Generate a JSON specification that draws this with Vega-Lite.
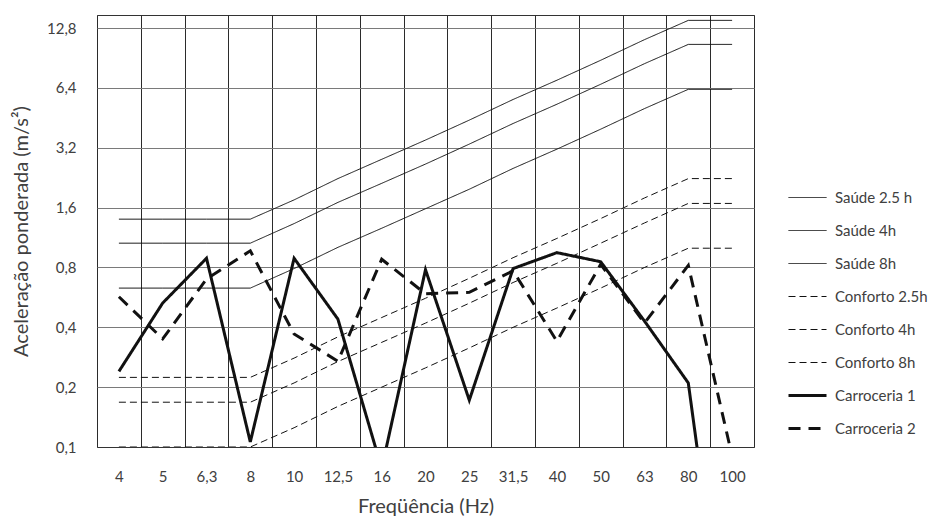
{
  "$schema": "https://vega.github.io/schema/vega-lite/v6.json",
  "width": 657,
  "height": 432,
  "autosize": {"type": "none"},
  "padding": {"left": 97, "top": 15, "right": 188, "bottom": 73},
  "background": "white",
  "config": {
    "font": "Lato",
    "view": {"stroke": "#333333", "strokeWidth": 1},
    "axis": {"labelFont": "Lato", "titleFont": "Lato", "labelColor": "#404040", "titleColor": "#404040", "titleFontWeight": "normal"},
    "legend": {"labelFont": "Lato"}
  },
  "data": {"values": [
    {"serie": "Saúde 2.5 h", "freq": "4", "valor": 1.4},
    {"serie": "Saúde 2.5 h", "freq": "5", "valor": 1.4},
    {"serie": "Saúde 2.5 h", "freq": "6,3", "valor": 1.4},
    {"serie": "Saúde 2.5 h", "freq": "8", "valor": 1.4},
    {"serie": "Saúde 2.5 h", "freq": "10", "valor": 1.75},
    {"serie": "Saúde 2.5 h", "freq": "12,5", "valor": 2.24},
    {"serie": "Saúde 2.5 h", "freq": "16", "valor": 2.8},
    {"serie": "Saúde 2.5 h", "freq": "20", "valor": 3.5},
    {"serie": "Saúde 2.5 h", "freq": "25", "valor": 4.41},
    {"serie": "Saúde 2.5 h", "freq": "31,5", "valor": 5.6},
    {"serie": "Saúde 2.5 h", "freq": "40", "valor": 7.0},
    {"serie": "Saúde 2.5 h", "freq": "50", "valor": 8.82},
    {"serie": "Saúde 2.5 h", "freq": "63", "valor": 11.2},
    {"serie": "Saúde 2.5 h", "freq": "80", "valor": 14.0},
    {"serie": "Saúde 2.5 h", "freq": "100", "valor": 14.0},
    {"serie": "Saúde 4h", "freq": "4", "valor": 1.06},
    {"serie": "Saúde 4h", "freq": "5", "valor": 1.06},
    {"serie": "Saúde 4h", "freq": "6,3", "valor": 1.06},
    {"serie": "Saúde 4h", "freq": "8", "valor": 1.06},
    {"serie": "Saúde 4h", "freq": "10", "valor": 1.33},
    {"serie": "Saúde 4h", "freq": "12,5", "valor": 1.7},
    {"serie": "Saúde 4h", "freq": "16", "valor": 2.12},
    {"serie": "Saúde 4h", "freq": "20", "valor": 2.65},
    {"serie": "Saúde 4h", "freq": "25", "valor": 3.34},
    {"serie": "Saúde 4h", "freq": "31,5", "valor": 4.24},
    {"serie": "Saúde 4h", "freq": "40", "valor": 5.3},
    {"serie": "Saúde 4h", "freq": "50", "valor": 6.68},
    {"serie": "Saúde 4h", "freq": "63", "valor": 8.48},
    {"serie": "Saúde 4h", "freq": "80", "valor": 10.6},
    {"serie": "Saúde 4h", "freq": "100", "valor": 10.6},
    {"serie": "Saúde 8h", "freq": "4", "valor": 0.63},
    {"serie": "Saúde 8h", "freq": "5", "valor": 0.63},
    {"serie": "Saúde 8h", "freq": "6,3", "valor": 0.63},
    {"serie": "Saúde 8h", "freq": "8", "valor": 0.63},
    {"serie": "Saúde 8h", "freq": "10", "valor": 0.79},
    {"serie": "Saúde 8h", "freq": "12,5", "valor": 1.01},
    {"serie": "Saúde 8h", "freq": "16", "valor": 1.26},
    {"serie": "Saúde 8h", "freq": "20", "valor": 1.58},
    {"serie": "Saúde 8h", "freq": "25", "valor": 1.98},
    {"serie": "Saúde 8h", "freq": "31,5", "valor": 2.52},
    {"serie": "Saúde 8h", "freq": "40", "valor": 3.15},
    {"serie": "Saúde 8h", "freq": "50", "valor": 3.97},
    {"serie": "Saúde 8h", "freq": "63", "valor": 5.04},
    {"serie": "Saúde 8h", "freq": "80", "valor": 6.3},
    {"serie": "Saúde 8h", "freq": "100", "valor": 6.3},
    {"serie": "Conforto 2.5h", "freq": "4", "valor": 0.224},
    {"serie": "Conforto 2.5h", "freq": "5", "valor": 0.224},
    {"serie": "Conforto 2.5h", "freq": "6,3", "valor": 0.224},
    {"serie": "Conforto 2.5h", "freq": "8", "valor": 0.224},
    {"serie": "Conforto 2.5h", "freq": "10", "valor": 0.28},
    {"serie": "Conforto 2.5h", "freq": "12,5", "valor": 0.358},
    {"serie": "Conforto 2.5h", "freq": "16", "valor": 0.448},
    {"serie": "Conforto 2.5h", "freq": "20", "valor": 0.56},
    {"serie": "Conforto 2.5h", "freq": "25", "valor": 0.706},
    {"serie": "Conforto 2.5h", "freq": "31,5", "valor": 0.896},
    {"serie": "Conforto 2.5h", "freq": "40", "valor": 1.12},
    {"serie": "Conforto 2.5h", "freq": "50", "valor": 1.41},
    {"serie": "Conforto 2.5h", "freq": "63", "valor": 1.79},
    {"serie": "Conforto 2.5h", "freq": "80", "valor": 2.24},
    {"serie": "Conforto 2.5h", "freq": "100", "valor": 2.24},
    {"serie": "Conforto 4h", "freq": "4", "valor": 0.168},
    {"serie": "Conforto 4h", "freq": "5", "valor": 0.168},
    {"serie": "Conforto 4h", "freq": "6,3", "valor": 0.168},
    {"serie": "Conforto 4h", "freq": "8", "valor": 0.168},
    {"serie": "Conforto 4h", "freq": "10", "valor": 0.21},
    {"serie": "Conforto 4h", "freq": "12,5", "valor": 0.269},
    {"serie": "Conforto 4h", "freq": "16", "valor": 0.336},
    {"serie": "Conforto 4h", "freq": "20", "valor": 0.42},
    {"serie": "Conforto 4h", "freq": "25", "valor": 0.529},
    {"serie": "Conforto 4h", "freq": "31,5", "valor": 0.672},
    {"serie": "Conforto 4h", "freq": "40", "valor": 0.84},
    {"serie": "Conforto 4h", "freq": "50", "valor": 1.06},
    {"serie": "Conforto 4h", "freq": "63", "valor": 1.34},
    {"serie": "Conforto 4h", "freq": "80", "valor": 1.68},
    {"serie": "Conforto 4h", "freq": "100", "valor": 1.68},
    {"serie": "Conforto 8h", "freq": "4", "valor": 0.1},
    {"serie": "Conforto 8h", "freq": "5", "valor": 0.1},
    {"serie": "Conforto 8h", "freq": "6,3", "valor": 0.1},
    {"serie": "Conforto 8h", "freq": "8", "valor": 0.1},
    {"serie": "Conforto 8h", "freq": "10", "valor": 0.125},
    {"serie": "Conforto 8h", "freq": "12,5", "valor": 0.16},
    {"serie": "Conforto 8h", "freq": "16", "valor": 0.2},
    {"serie": "Conforto 8h", "freq": "20", "valor": 0.25},
    {"serie": "Conforto 8h", "freq": "25", "valor": 0.315},
    {"serie": "Conforto 8h", "freq": "31,5", "valor": 0.4},
    {"serie": "Conforto 8h", "freq": "40", "valor": 0.5},
    {"serie": "Conforto 8h", "freq": "50", "valor": 0.63},
    {"serie": "Conforto 8h", "freq": "63", "valor": 0.8},
    {"serie": "Conforto 8h", "freq": "80", "valor": 1.0},
    {"serie": "Conforto 8h", "freq": "100", "valor": 1.0},
    {"serie": "Carroceria 1", "freq": "4", "valor": 0.24},
    {"serie": "Carroceria 1", "freq": "5", "valor": 0.53},
    {"serie": "Carroceria 1", "freq": "6,3", "valor": 0.89},
    {"serie": "Carroceria 1", "freq": "8", "valor": 0.106},
    {"serie": "Carroceria 1", "freq": "10", "valor": 0.89},
    {"serie": "Carroceria 1", "freq": "12,5", "valor": 0.44},
    {"serie": "Carroceria 1", "freq": "16", "valor": 0.078},
    {"serie": "Carroceria 1", "freq": "20", "valor": 0.78},
    {"serie": "Carroceria 1", "freq": "25", "valor": 0.172},
    {"serie": "Carroceria 1", "freq": "31,5", "valor": 0.79},
    {"serie": "Carroceria 1", "freq": "40", "valor": 0.95},
    {"serie": "Carroceria 1", "freq": "50", "valor": 0.855},
    {"serie": "Carroceria 1", "freq": "63", "valor": 0.43},
    {"serie": "Carroceria 1", "freq": "80", "valor": 0.21},
    {"serie": "Carroceria 1", "freq": "100", "valor": 0.005},
    {"serie": "Carroceria 2", "freq": "4", "valor": 0.57},
    {"serie": "Carroceria 2", "freq": "5", "valor": 0.35},
    {"serie": "Carroceria 2", "freq": "6,3", "valor": 0.7},
    {"serie": "Carroceria 2", "freq": "8", "valor": 0.97},
    {"serie": "Carroceria 2", "freq": "10", "valor": 0.37},
    {"serie": "Carroceria 2", "freq": "12,5", "valor": 0.27},
    {"serie": "Carroceria 2", "freq": "16", "valor": 0.88},
    {"serie": "Carroceria 2", "freq": "20", "valor": 0.59},
    {"serie": "Carroceria 2", "freq": "25", "valor": 0.6},
    {"serie": "Carroceria 2", "freq": "31,5", "valor": 0.77},
    {"serie": "Carroceria 2", "freq": "40", "valor": 0.34},
    {"serie": "Carroceria 2", "freq": "50", "valor": 0.83},
    {"serie": "Carroceria 2", "freq": "63", "valor": 0.42},
    {"serie": "Carroceria 2", "freq": "80", "valor": 0.82},
    {"serie": "Carroceria 2", "freq": "100", "valor": 0.09}
  ]},
  "mark": {"type": "line", "clip": true, "color": "#111111", "strokeJoin": "miter"},
  "encoding": {
    "x": {
      "field": "freq",
      "type": "ordinal",
      "sort": ["4", "5", "6,3", "8", "10", "12,5", "16", "20", "25", "31,5", "40", "50", "63", "80", "100"],
      "scale": {"type": "band", "paddingInner": 0, "paddingOuter": 0},
      "axis": {
        "title": "Freqüência (Hz)",
        "labelAngle": 0,
        "tickBand": "extent",
        "grid": true,
        "gridColor": "#2b2b2b",
        "gridOpacity": 1,
        "ticks": false,
        "domainColor": "#333333",
        "labelFontSize": 15,
        "labelPadding": 22,
        "titleFontSize": 20,
        "titlePadding": 12
      }
    },
    "y": {
      "field": "valor",
      "type": "quantitative",
      "scale": {"type": "log", "base": 2, "domain": [0.1, 14.9], "nice": false},
      "axis": {
        "title": "Aceleração ponderada (m/s²)",
        "values": [0.1, 0.2, 0.4, 0.8, 1.6, 3.2, 6.4, 12.8],
        "labelExpr": "replace(format(datum.value, '.1f'), '.', ',')",
        "grid": true,
        "gridColor": "#7a7a7a",
        "gridOpacity": 1,
        "ticks": false,
        "domain": false,
        "labelFontSize": 15,
        "labelPadding": 21,
        "titleFontSize": 20,
        "titlePadding": 15
      }
    },
    "strokeDash": {
      "field": "serie",
      "type": "nominal",
      "scale": {
        "domain": ["Saúde 2.5 h", "Saúde 4h", "Saúde 8h", "Conforto 2.5h", "Conforto 4h", "Conforto 8h", "Carroceria 1", "Carroceria 2"],
        "range": [[1, 0], [1, 0], [1, 0], [7, 4], [7, 4], [7, 4], [1, 0], [12, 8]]
      },
      "legend": {
        "title": null,
        "orient": "none",
        "legendX": 703,
        "legendY": 175,
        "symbolType": "stroke",
        "symbolSize": 1444,
        "symbolStrokeColor": "#111111",
        "rowPadding": 17,
        "labelOffset": 20,
        "labelFontSize": 15,
        "labelColor": "#404040",
        "encode": {
          "symbols": {"update": {
            "size": {"value": 1444},
            "strokeWidth": {"signal": "datum.value === 'Carroceria 1' || datum.value === 'Carroceria 2' ? 3 : 1"}
          }}
        }
      }
    },
    "strokeWidth": {
      "condition": {"test": "datum.serie === 'Carroceria 1' || datum.serie === 'Carroceria 2'", "value": 3},
      "value": 1
    }
  }
}
